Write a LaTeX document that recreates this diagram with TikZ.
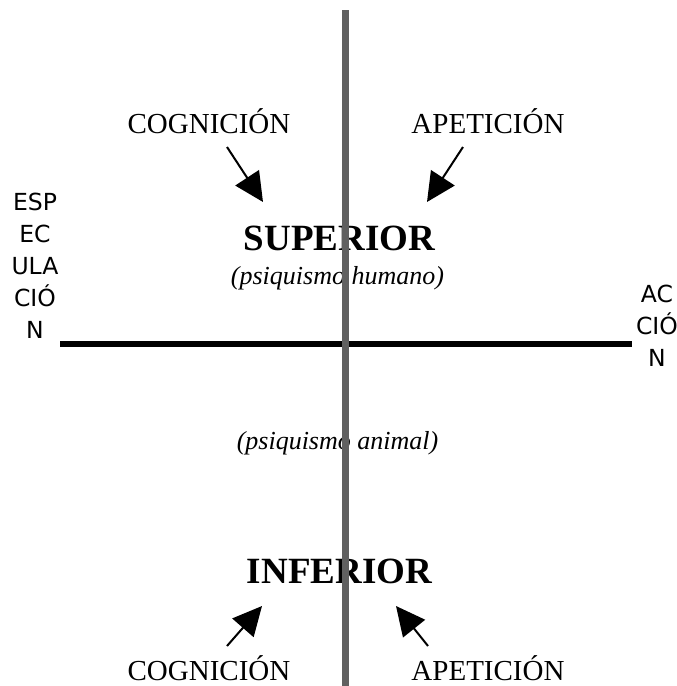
\documentclass[tikz,border=0pt]{standalone}
\usepackage{fontspec}
\setmainfont{Liberation Serif}
\newfontfamily\sansdv{DejaVu Sans}
\usetikzlibrary{arrows.meta}
\tikzset{
  rotulo/.style={font=\fontsize{29}{34}\selectfont, anchor=base},
  nivel/.style={font=\bfseries\fontsize{37}{42}\selectfont, anchor=base},
  psiq/.style={font=\itshape\fontsize{26}{30}\selectfont, anchor=base},
  polo/.style={font=\sansdv\fontsize{23.5}{32}\selectfont, align=center, inner sep=0pt},
  flecha/.style={line width=2pt, -{Triangle[length=29pt,width=28pt]}}
}
\begin{document}
\begin{tikzpicture}[x=1pt,y=-1pt]
      \useasboundingbox (0,0) rectangle (677,686);
      \node[rotulo] (cogS) at (209,133) {COGNICIÓN}; \node[rotulo] (apeS) at (488,133) {APETICIÓN};
      \node[nivel] (sup) at (339.5,250) {SUPERIOR};
      \node[psiq] (hum) at (337.5,284) {(psiquismo humano)};
      \node[psiq] (ani) at (337.5,449) {(psiquismo animal)};
      \node[nivel] (inf) at (339.5,583) {INFERIOR};
      \node[rotulo] (cogI) at (209,680) {COGNICIÓN}; \node[rotulo] (apeI) at (488,680) {APETICIÓN};
      \node[polo] (esp) at (35,266) {ESP\\EC\\ULA\\CIÓ\\N};
      \node[polo] (acc) at (657,326) {AC\\CIÓ\\N};
      \coordinate (c1) at (227,147); \coordinate (t1) at (263,202);
      \coordinate (c2) at (463,147); \coordinate (t2) at (427,202);
      \coordinate (c3) at (227,646); \coordinate (t3) at (262,606);
      \coordinate (c4) at (428,646); \coordinate (t4) at (396,606);
      \draw[flecha] (c1) to (t1);
      \draw[flecha] (c2) to (t2);
      \draw[flecha] (c3) to (t3);
      \draw[flecha] (c4) to (t4);
      \coordinate (h0) at (60,344); \coordinate (h1) at (632,344);
      \coordinate (v0) at (345.5,10); \coordinate (v1) at (345.5,686);
      \draw[line width=6pt] (h0) to (h1);
      \draw[line width=6.5pt, color={rgb,255:red,96;green,96;blue,96}] (v0) to (v1);
    \end{tikzpicture}
\end{document}
